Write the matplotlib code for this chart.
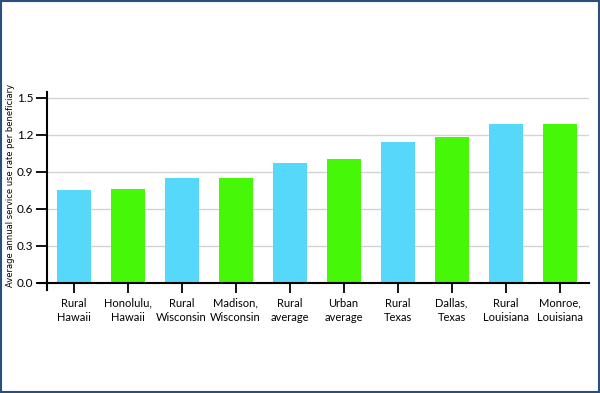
import matplotlib.pyplot as plt
from matplotlib.patches import Rectangle

# Data
categories = ['Rural\nHawaii', 'Honolulu,\nHawaii', 'Rural\nWisconsin', 'Madison,\nWisconsin',
              'Rural\naverage', 'Urban\naverage', 'Rural\nTexas', 'Dallas,\nTexas',
              'Rural\nLouisiana', 'Monroe,\nLouisiana']
values = [0.75, 0.76, 0.85, 0.85, 0.97, 1.00, 1.14, 1.18, 1.29, 1.29]
bar_colors = ['#56d8fb', '#47f708'] * 5
y_ticks = [0.0, 0.3, 0.6, 0.9, 1.2, 1.5]
y_tick_labels = ['0.0', '0.3', '0.6', '0.9', '1.2', '1.5']

plt.rcParams['font.family'] = ['Lato', 'DejaVu Sans']

fig = plt.figure(figsize=(6, 3.93), dpi=100)
ax = fig.add_axes([0.0633, 0.262, 0.918, 0.505])

index = range(len(categories))
ax.bar(index, values, 0.63, color=bar_colors, zorder=3)

ax.set_xlim(-0.66, 9.54)
ax.set_ylim(-0.06, 1.55)

# gridlines
for t in y_ticks[1:]:
    ax.axhline(t, xmin=0.017, color='#d4d4d4', lw=1, zorder=1)

ax.spines['top'].set_visible(False)
ax.spines['right'].set_visible(False)
ax.spines['left'].set_position(('data', -0.49))
ax.spines['bottom'].set_position(('data', 0))
ax.spines['left'].set_linewidth(1.5)
ax.spines['bottom'].set_linewidth(1.5)
ax.spines['left'].set_zorder(4)
ax.spines['bottom'].set_zorder(4)

ax.set_yticks(y_ticks)
ax.set_yticklabels(y_tick_labels)
ax.set_xticks(list(index))
ax.set_xticklabels(categories, linespacing=1.3)
ax.tick_params(axis='y', length=8, width=1.3, labelsize=8.5, pad=2, color='black')
ax.tick_params(axis='x', length=7, width=1.3, labelsize=8, pad=4, color='black')

fig.text(0.018, 0.527, 'Average annual service use rate per beneficiary',
         rotation=90, ha='center', va='center', fontsize=6.0,
         family=['Liberation Sans Narrow', 'DejaVu Sans'])

# thin blue frame around the picture
fig.patches.append(Rectangle((0.002, 0.003), 0.996, 0.994, transform=fig.transFigure,
                             fill=False, edgecolor='#2b4f7c', lw=1.5))

plt.savefig('out.png', dpi=100)
